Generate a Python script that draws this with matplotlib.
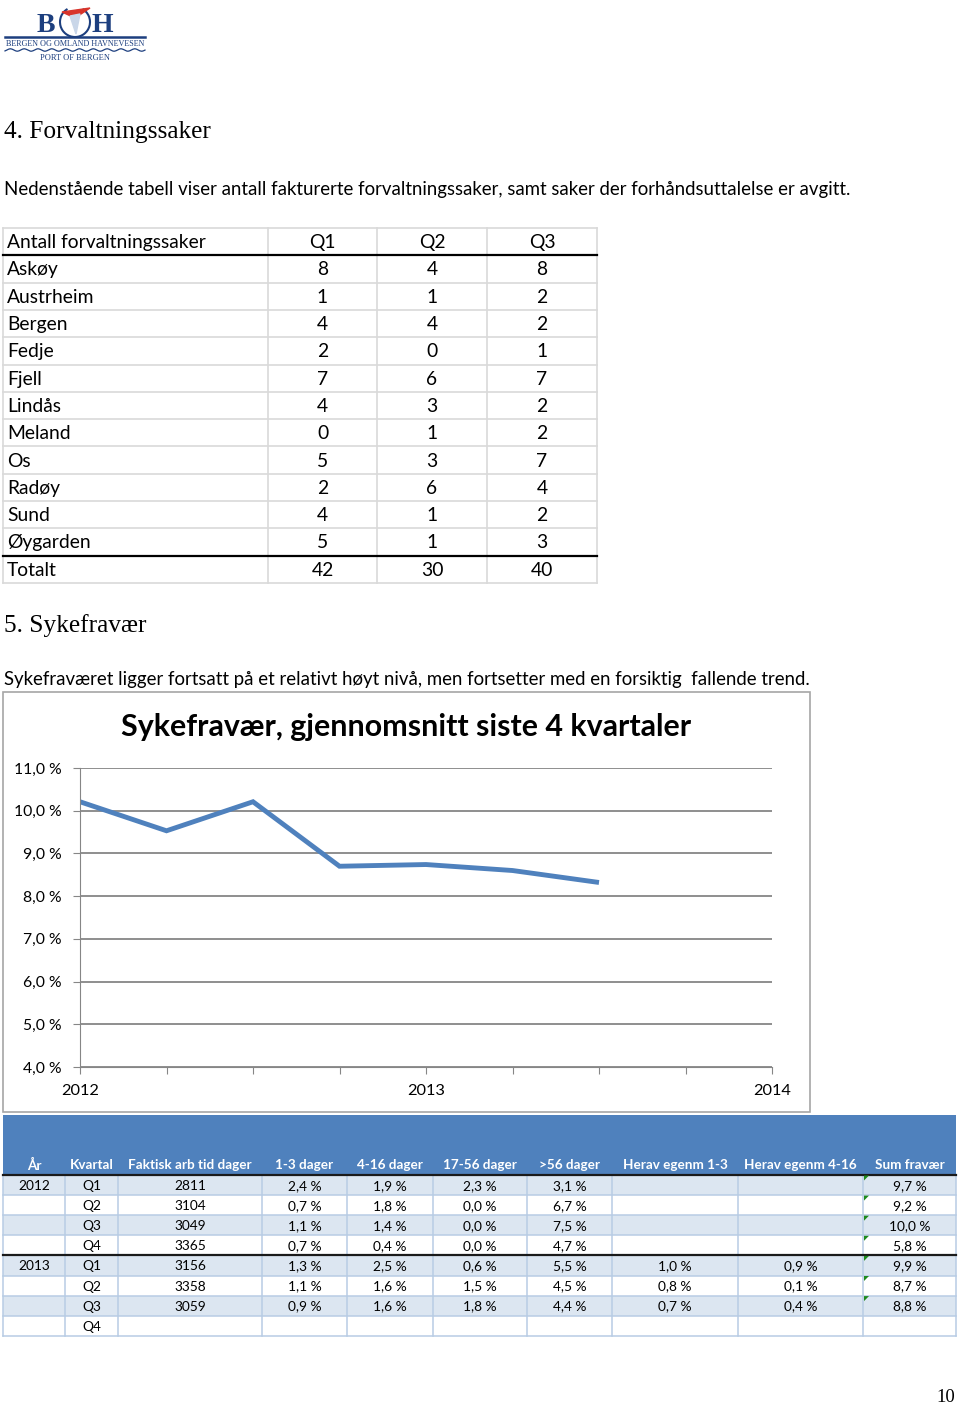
import matplotlib
matplotlib.use("Agg")
import matplotlib.pyplot as plt
import numpy as np
from matplotlib.patches import Rectangle, Polygon, Arc

# ------------------------------------------------------------
# Data
# ------------------------------------------------------------
kommuner = ["Askøy", "Austrheim", "Bergen", "Fedje", "Fjell", "Lindås",
            "Meland", "Os", "Radøy", "Sund", "Øygarden"]
saker_q1 = [8, 1, 4, 2, 7, 4, 0, 5, 2, 4, 5]
saker_q2 = [4, 1, 4, 0, 6, 3, 1, 3, 6, 1, 1]
saker_q3 = [8, 2, 2, 1, 7, 2, 2, 7, 4, 2, 3]
saker_kolonner = ["Q1", "Q2", "Q3"]

# sykefravær, gjennomsnitt siste 4 kvartaler (kvartal 0 = 2012 Q1)
snitt_kvartal = [0, 1, 2, 3, 4, 5, 6]
snitt_fravaer = [10.21, 9.53, 10.21, 8.70, 8.74, 8.60, 8.32]
aar_ticks = [0, 4, 8]
aar_labels = ["2012", "2013", "2014"]

fravaer_header = ["År", "Kvartal", "Faktisk arb tid dager", "1-3 dager", "4-16 dager",
                  "17-56 dager", ">56 dager", "Herav egenm 1-3", "Herav egenm 4-16",
                  "Sum fravær"]
fravaer_aar = ["2012", "", "", "", "2013", "", "", ""]
fravaer_kvartal = ["Q1", "Q2", "Q3", "Q4", "Q1", "Q2", "Q3", "Q4"]
arb_dager = [2811, 3104, 3049, 3365, 3156, 3358, 3059, None]
f_1_3 = [2.4, 0.7, 1.1, 0.7, 1.3, 1.1, 0.9, None]
f_4_16 = [1.9, 1.8, 1.4, 0.4, 2.5, 1.6, 1.6, None]
f_17_56 = [2.3, 0.0, 0.0, 0.0, 0.6, 1.5, 1.8, None]
f_56 = [3.1, 6.7, 7.5, 4.7, 5.5, 4.5, 4.4, None]
egenm_1_3 = [None, None, None, None, 1.0, 0.8, 0.7, None]
egenm_4_16 = [None, None, None, None, 0.9, 0.1, 0.4, None]
sum_fravaer = [9.7, 9.2, 10.0, 5.8, 9.9, 8.7, 8.8, None]

W, H = 960, 1408
BODY = ["Lato", "DejaVu Sans"]
SERIF = ["Liberation Serif", "DejaVu Serif"]
BLUE = "#4f81bd"


def pct(v):
    return "" if v is None else f"{v:.1f} %".replace(".", ",")


fig = plt.figure(figsize=(W / 100, H / 100), dpi=100)
fig.patch.set_facecolor("white")

page = fig.add_axes([0, 0, 1, 1])
page.set_xlim(0, W)
page.set_ylim(H, 0)
page.axis("off")

# ------------------------------------------------------------
# Logo (rough)
# ------------------------------------------------------------
navy = "#1d3f7f"
page.text(46, 25, "B", family=SERIF, fontsize=20, color=navy, ha="center", va="center", weight="bold")
page.text(102, 25, "H", family=SERIF, fontsize=20, color=navy, ha="center", va="center", weight="bold")
page.add_patch(Arc((75, 22), 30, 30, theta1=-60, theta2=240, color=navy, lw=1.5))
page.add_patch(Polygon([[62, 12], [90, 8], [75, 18]], closed=True, color="#d8342b"))
page.add_patch(Polygon([[70, 16], [80, 14], [76, 34]], closed=True, color="#c9d6e8"))
page.plot([5, 145], [37, 37], color=navy, lw=1.8)
page.text(75, 43.5, "BERGEN OG OMLAND HAVNEVESEN", family=SERIF, fontsize=5.9,
          color=navy, ha="center", va="center")
wx = np.linspace(5, 145, 200)
page.plot(wx, 50 + 1.2 * np.sin(wx / 2.2), color=navy, lw=0.9)
page.text(75, 58.5, "PORT OF BERGEN", family=SERIF, fontsize=6.0, color=navy,
          ha="center", va="center")

# ------------------------------------------------------------
# Section 4
# ------------------------------------------------------------
page.text(4, 132, "4. Forvaltningssaker", family=SERIF, fontsize=18.3, ha="left", va="center")
page.text(4, 189, "Nedenstående tabell viser antall fakturerte forvaltningssaker, samt saker der "
          "forhåndsuttalelse er avgitt.", family=BODY, fontsize=13.4, ha="left", va="center")

col_x = [3, 268, 377, 487, 597]
row_y = [228 + 27.3 * i for i in range(14)]
grid_c = "#d9d9d9"
for x in col_x:
    page.plot([x, x], [row_y[0], row_y[-1]], color=grid_c, lw=1.2)
for i, y in enumerate(row_y):
    if i in (1, 12):
        page.plot([col_x[0], col_x[-1]], [y, y], color="black", lw=1.6, zorder=3)
    else:
        page.plot([col_x[0], col_x[-1]], [y, y], color=grid_c, lw=1.2)

rows = [["Antall forvaltningssaker"] + saker_kolonner]
for k, a, b, c in zip(kommuner, saker_q1, saker_q2, saker_q3):
    rows.append([k, str(a), str(b), str(c)])
rows.append(["Totalt", str(sum(saker_q1)), str(sum(saker_q2)), str(sum(saker_q3))])
for i, r in enumerate(rows):
    yc = (row_y[i] + row_y[i + 1]) / 2 + 1
    page.text(col_x[0] + 4, yc, r[0], family=BODY, fontsize=13.9, ha="left", va="center")
    for j in range(1, 4):
        page.text((col_x[j] + col_x[j + 1]) / 2, yc, r[j], family=BODY, fontsize=13.9,
                  ha="center", va="center")

# ------------------------------------------------------------
# Section 5
# ------------------------------------------------------------
page.text(4, 626, "5. Sykefravær", family=SERIF, fontsize=18.3, ha="left", va="center")
page.text(4, 679, "Sykefraværet ligger fortsatt på et relativt høyt nivå, men fortsetter med en "
          "forsiktig  fallende trend.", family=BODY, fontsize=13.4, ha="left", va="center")

# chart frame
page.add_patch(Rectangle((3, 692), 807, 420, fill=False, edgecolor="#a6a6a6", lw=1.2))
title = page.text(406, 727, "Sykefravær, gjennomsnitt siste 4 kvartaler",
                  family=BODY, weight="bold", fontsize=22, ha="center", va="center")
# squeeze the title to the width it has in the reference (narrow bold font)
renderer = fig.canvas.get_renderer()
tw = title.get_window_extent(renderer).width
title.set_fontsize(22 * 569 / tw)

ax = fig.add_axes([80 / W, 1 - 1067 / H, (772 - 80) / W, (1067 - 768) / H])
ax.plot(snitt_kvartal, snitt_fravaer, color=BLUE, lw=3.5, solid_capstyle="butt",
        solid_joinstyle="miter")
ax.set_xlim(0, 8)
ax.set_ylim(4, 11)
ax.set_yticks(np.arange(4, 11.5, 1))
ax.set_yticklabels([pct(v) for v in np.arange(4, 11.5, 1)], family=BODY, fontsize=11.3)
ax.set_xticks(range(9))
ax.set_xticklabels(["" for _ in range(9)])
for t, lab in zip(aar_ticks, aar_labels):
    ax.text(t, -0.08, lab, transform=ax.get_xaxis_transform(), family=BODY, fontsize=11.8,
            ha="center", va="center")
ax.grid(axis="y", color="#868686", lw=1.3)
ax.set_axisbelow(True)
for s in ("top", "right"):
    ax.spines[s].set_visible(False)
ax.spines["left"].set_color("#868686")
ax.spines["bottom"].set_color("#868686")
ax.tick_params(axis="y", length=5, color="#868686", pad=8)
ax.tick_params(axis="x", length=5, color="#868686", direction="out")
ax.patch.set_alpha(0)

# ------------------------------------------------------------
# Bottom table
# ------------------------------------------------------------
t_cols = [3, 65, 118, 262, 347, 433, 527, 612, 738, 863, 956]
t_top = 1115
t_rows = [1175 + 20.1 * i for i in range(9)]
page.add_patch(Rectangle((t_cols[0], t_top), t_cols[-1] - t_cols[0], t_rows[0] - t_top,
                         color=BLUE, lw=0))
for i in range(8):
    if i % 2 == 0:
        page.add_patch(Rectangle((t_cols[0], t_rows[i]), t_cols[-1] - t_cols[0], 20.1,
                                 color="#dce6f1", lw=0))
line_c = "#b8cce4"
for x in t_cols:
    page.plot([x, x], [t_rows[0], t_rows[-1]], color=line_c, lw=1.1)
for i, y in enumerate(t_rows):
    if i in (0, 4):
        page.plot([t_cols[0], t_cols[-1]], [y, y], color="#1a1a1a", lw=1.6, zorder=3)
    else:
        page.plot([t_cols[0], t_cols[-1]], [y, y], color=line_c, lw=1.1)

for j, h in enumerate(fravaer_header):
    page.text((t_cols[j] + t_cols[j + 1]) / 2, 1165, h, family=BODY, fontsize=9.7,
              color="white", weight="bold", ha="center", va="center")

for i in range(8):
    yc = (t_rows[i] + t_rows[i + 1]) / 2 + 1
    vals = [fravaer_aar[i], fravaer_kvartal[i],
            "" if arb_dager[i] is None else str(arb_dager[i]),
            pct(f_1_3[i]), pct(f_4_16[i]), pct(f_17_56[i]), pct(f_56[i]),
            pct(egenm_1_3[i]), pct(egenm_4_16[i]), pct(sum_fravaer[i])]
    for j, v in enumerate(vals):
        page.text((t_cols[j] + t_cols[j + 1]) / 2, yc, v, family=BODY, fontsize=9.9,
                  ha="center", va="center")
    if sum_fravaer[i] is not None:
        x0, y0 = t_cols[9] + 1, t_rows[i] + 0.5
        page.add_patch(Polygon([[x0, y0], [x0 + 5, y0], [x0, y0 + 5]], closed=True,
                               color="#1e8a1e", lw=0, zorder=4))

page.text(946, 1398, "10", family=SERIF, fontsize=13.5, ha="center", va="center")

fig.savefig("out.png", dpi=100)
